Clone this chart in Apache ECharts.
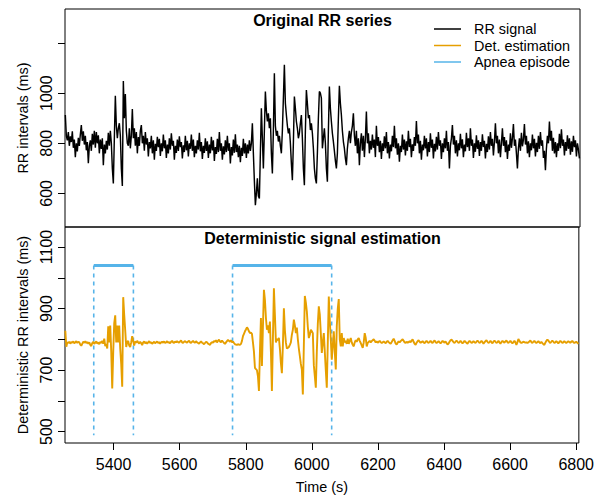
<!DOCTYPE html>
<html>
<head>
<meta charset="utf-8">
<script src="https://cdn.jsdelivr.net/npm/echarts@6/dist/echarts.min.js"></script>
<style>html,body{margin:0;padding:0;background:#fff}#c{width:597px;height:497px}</style>
</head>
<body>
<div id="c"></div>
<script>
// ---- data ----
const sampleStart = 5254;   // s, time of first sample
const sampleStep = 3.02;    // s between samples
const rrSignal = [
913,830,812,845,790,828,805,848,782,815,
745,800,768,822,790,835,873,810,848,795,
830,772,805,721,790,812,770,838,795,850,
782,845,800,832,760,815,778,820,713,795,
760,810,775,842,790,850,800,700,640,820,
990,870,820,860,880,830,700,630,1049,900,
997,850,800,790,860,780,830,937,820,860,
790,845,760,825,790,850,873,800,830,770,
845,795,820,748,805,780,830,760,812,735,
798,770,826,785,818,750,800,768,835,780,
812,742,795,760,820,775,840,790,810,735,
790,762,815,770,828,785,805,740,792,765,
830,772,810,748,800,778,835,770,815,745,
790,760,812,775,842,768,805,738,790,762,
820,770,808,742,795,760,826,772,812,730,
785,758,818,765,845,770,800,735,788,756,
812,765,830,770,800,720,785,752,815,762,
836,765,795,745,790,725,782,750,818,760,
800,742,795,760,812,770,800,880,760,650,
553,600,660,590,580,760,940,820,700,850,
1007,930,887,920,860,900,760,680,850,1080,
870,830,850,807,830,790,760,850,980,1113,
960,913,870,840,860,800,720,653,800,987,
940,887,860,820,840,880,913,820,700,633,
850,1013,960,900,913,853,880,840,780,700,
660,640,760,900,1007,1000,980,780,820,860,
800,700,647,850,1027,940,887,840,807,770,
730,700,760,900,1030,960,913,850,807,780,
740,713,780,820,850,800,845,870,920,830,
790,850,760,820,713,800,840,770,830,745,
820,927,800,840,760,810,775,835,782,815,
745,870,790,825,765,810,738,800,770,828,
780,845,760,805,740,795,768,830,785,870,
780,820,755,800,727,790,765,835,775,815,
752,808,770,850,785,818,745,796,770,825,
790,889,800,835,760,810,735,795,772,830,
780,820,748,805,765,840,782,815,740,798,
768,826,775,845,790,812,738,800,765,820,
780,850,770,805,700,790,820,873,795,830,
760,812,748,800,772,838,780,816,745,795,
768,842,785,820,770,860,790,815,742,800,
766,832,778,812,750,805,770,836,785,810,
740,798,765,828,775,845,790,818,752,805,
880,800,830,760,815,745,800,860,790,825,
765,812,738,795,770,840,782,820,877,790,
815,760,700,780,820,770,842,788,815,877,
795,830,760,808,745,800,772,835,780,818,
748,802,765,830,778,845,790,812,742,770,
693,780,830,800,887,810,850,770,822,760,
805,745,800,770,838,780,856,790,815,752,
805,770,832,778,820,755,808,766,830,785,
812,748,800,775,740
];
const detEstimation = [
828,776,790,788,792,786,791,789,793,787,
790,794,788,792,790,783,779,786,792,789,
794,788,791,786,790,782,778,788,792,785,
789,793,786,790,784,792,788,795,786,802,
778,785,770,842,790,845,760,640,760,853,
878,790,845,790,845,770,720,646,937,880,
830,775,790,795,780,775,790,810,795,780,
793,789,795,790,786,792,788,781,790,793,
787,791,786,790,794,788,791,785,789,792,
787,790,793,788,791,786,790,792,789,793,
788,790,794,789,791,787,792,795,790,788,
793,790,794,791,789,793,796,790,788,792,
794,791,789,793,795,790,788,792,795,791,
789,794,790,788,786,790,793,789,787,784,
788,792,790,786,784,782,788,791,789,795,
792,797,790,795,799,793,790,796,792,788,
785,790,794,798,795,792,797,790,793,788,
784,783,782,784,783,782,785,795,810,818,
826,832,839,834,826,820,822,818,790,760,
707,703,700,680,632,760,869,713,840,961,
928,870,831,845,820,858,760,632,800,966,
880,790,800,797,805,770,723,690,780,901,
830,790,770,772,775,782,790,815,831,864,
845,820,838,800,770,745,720,702,621,780,
941,920,891,840,804,815,831,826,820,716,
680,643,760,850,907,880,820,756,790,820,
760,700,643,790,939,860,800,734,780,826,
760,702,842,900,931,800,777,820,777,804,
790,795,785,802,785,795,804,790,782,777,
790,797,792,800,804,795,788,780,772,790,
820,805,777,788,792,795,790,794,797,800,
795,790,793,789,792,795,791,788,790,793,
790,787,792,795,791,788,785,791,797,802,
795,786,783,789,793,790,794,797,800,795,
790,788,792,789,791,794,790,796,800,792,
785,782,789,794,797,792,789,791,794,790,
787,792,795,791,788,792,795,790,788,793,
796,791,788,791,794,790,787,791,795,792,
789,793,788,783,786,792,797,799,795,791,
788,792,796,792,788,791,795,791,787,790,
795,792,788,786,791,795,792,788,790,794,
791,788,792,796,792,788,791,795,791,786,
790,794,797,792,788,791,795,791,787,792,
796,792,788,791,795,790,786,791,795,792,
789,793,796,791,788,792,795,790,787,791,
795,790,782,790,801,795,790,788,790,792,
791,789,790,788,790,793,796,791,788,792,
795,791,788,791,794,790,787,792,788,784,
782,789,795,799,796,791,788,792,796,792,
788,790,794,791,787,791,795,792,788,790,
794,791,788,791,794,791,789,792,795,791,
788,790,792,789,785
];
const apneaStart = [5340, 5760];
const apneaEnd = [5460, 6060];
const apneaLevel = 1040;
const apneaFloor = 488;
const xTicks = [5400, 5600, 5800, 6000, 6200, 6400, 6600, 6800];
const topYTicks = [600, 800, 1000, 1200];
const topYLabels = [600, 800, 1000];
const bottomYTicks = [500, 600, 700, 800, 900, 1000, 1100];
const bottomYLabels = [500, 700, 900, 1100];
const seriesNames = ['RR signal', 'Det. estimation', 'Apnea episode'];
const panelTitles = ['Original RR series', 'Deterministic signal estimation'];

// ---- build ----
const rrData = rrSignal.map((v, i) => [sampleStart + i * sampleStep, v]);
const detData = detEstimation.map((v, i) => [sampleStart + i * sampleStep, v]);
const apneaBars = [];
const apneaBounds = [];
apneaStart.forEach((s, k) => {
  const e = apneaEnd[k];
  apneaBars.push([s, apneaLevel], [e, apneaLevel], [null, null]);
  apneaBounds.push([s, apneaLevel], [s, apneaFloor], [null, null]);
  apneaBounds.push([e, apneaLevel], [e, apneaFloor], [null, null]);
});

const FONT = "'Liberation Sans', Arial, Helvetica, sans-serif";
const C_BLACK = '#000000', C_ORANGE = '#E69F00', C_BLUE = '#56B4E9';
const seriesColors = [C_BLACK, C_ORANGE, C_BLUE];
const X_MIN = 5253, X_MAX = 6808;
const plain = v => String(v);

const chart = echarts.init(document.getElementById('c'), null, { renderer: 'svg' });
const yCommon = {
  type: 'value',
  nameLocation: 'middle',
  nameRotate: 90,
  nameGap: 34,
  nameTextStyle: { fontFamily: FONT, fontSize: 14.4, color: '#000' },
  axisLine: { show: false },
  splitLine: { show: false },
  axisTick: { show: true, length: 7, lineStyle: { color: '#000' } },
  axisLabel: { rotate: 90, margin: 11, fontFamily: FONT, fontSize: 16, color: '#000', formatter: plain }
};

// legend drawn as graphic items
const legendGraphics = [];
seriesNames.forEach((n, k) => {
  const y = 29 + k * 16.5;
  legendGraphics.push({ type: 'line', shape: { x1: 434, y1: y, x2: 461, y2: y }, style: { stroke: seriesColors[k], lineWidth: 1.5 } });
  legendGraphics.push({ type: 'text', x: 474, y: y, style: { text: n, font: '14.4px ' + FONT, fill: '#000', textAlign: 'left', textVerticalAlign: 'middle' } });
});

chart.setOption({
  animation: false,
  backgroundColor: '#fff',
  grid: [
    { left: 65, right: 17, top: 9, height: 218, show: true, borderColor: '#000', borderWidth: 1, backgroundColor: 'transparent' },
    { left: 65, right: 17, top: 227, height: 216, show: true, borderColor: '#000', borderWidth: 1, backgroundColor: 'transparent' }
  ],
  xAxis: [
    { type: 'value', gridIndex: 0, min: X_MIN, max: X_MAX, axisLine: { show: false }, axisTick: { show: false }, axisLabel: { show: false }, splitLine: { show: false } },
    { type: 'value', gridIndex: 1, min: X_MIN, max: X_MAX,
      name: 'Time (s)', nameLocation: 'middle', nameGap: 37,
      nameTextStyle: { fontFamily: FONT, fontSize: 14.4, color: '#000' },
      axisLine: { show: false }, splitLine: { show: false },
      axisTick: { show: true, length: 7, customValues: xTicks, lineStyle: { color: '#000' } },
      axisLabel: { customValues: xTicks, margin: 13, fontFamily: FONT, fontSize: 16, color: '#000', formatter: plain } }
  ],
  yAxis: [
    Object.assign({}, yCommon, { gridIndex: 0, min: 466, max: 1336, name: 'RR intervals (ms)',
      axisTick: Object.assign({}, yCommon.axisTick, { customValues: topYTicks }),
      axisLabel: Object.assign({}, yCommon.axisLabel, { customValues: topYLabels }) }),
    Object.assign({}, yCommon, { gridIndex: 1, min: 463, max: 1165, name: 'Deterministic RR intervals (ms)',
      axisTick: Object.assign({}, yCommon.axisTick, { customValues: bottomYTicks }),
      axisLabel: Object.assign({}, yCommon.axisLabel, { customValues: bottomYLabels }) })
  ],
  graphic: [
    { type: 'text', x: 322.5, y: 20, style: { text: panelTitles[0], font: 'bold 16px ' + FONT, fill: '#000', textAlign: 'center', textVerticalAlign: 'middle' } },
    { type: 'text', x: 322.5, y: 238.5, style: { text: panelTitles[1], font: 'bold 16px ' + FONT, fill: '#000', textAlign: 'center', textVerticalAlign: 'middle' } }
  ].concat(legendGraphics),
  series: [
    { name: seriesNames[0], type: 'line', xAxisIndex: 0, yAxisIndex: 0, data: rrData, showSymbol: false, symbol: 'none',
      lineStyle: { color: C_BLACK, width: 1.45 }, itemStyle: { color: C_BLACK } },
    { name: 'Apnea bounds', type: 'line', xAxisIndex: 1, yAxisIndex: 1, data: apneaBounds, showSymbol: false, symbol: 'none', connectNulls: false,
      lineStyle: { color: C_BLUE, width: 1.6, type: [4, 4] }, itemStyle: { color: C_BLUE } },
    { name: seriesNames[1], type: 'line', xAxisIndex: 1, yAxisIndex: 1, data: detData, showSymbol: false, symbol: 'none',
      lineStyle: { color: C_ORANGE, width: 1.9 }, itemStyle: { color: C_ORANGE } },
    { name: seriesNames[2], type: 'line', xAxisIndex: 1, yAxisIndex: 1, data: apneaBars, showSymbol: false, symbol: 'none', connectNulls: false,
      lineStyle: { color: C_BLUE, width: 3 }, itemStyle: { color: C_BLUE } }
  ]
});
</script>
</body>
</html>
